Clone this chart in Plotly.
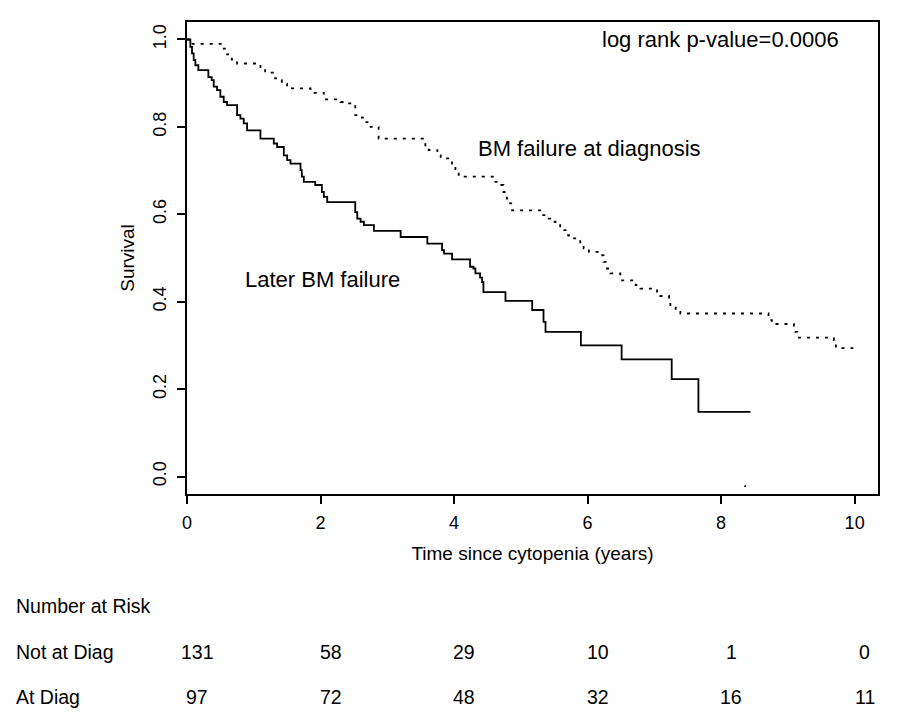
import plotly.graph_objects as go

# ---- data ----
later_t = [0, 0.05, 0.075, 0.10, 0.125, 0.17, 0.32, 0.37, 0.40, 0.45, 0.50,
           0.55, 0.60, 0.75, 0.80, 0.85, 0.90, 1.10, 1.30, 1.35, 1.45,
           1.50, 1.55, 1.70, 1.72, 1.75, 1.92, 2.02, 2.05, 2.10, 2.52,
           2.55, 2.60, 2.65, 2.80, 3.20, 3.60, 3.82, 3.85, 3.97, 4.24,
           4.29, 4.32, 4.39, 4.42, 4.44, 4.77, 5.17, 5.34, 5.37, 5.90,
           6.51, 7.26, 7.66, 8.44]
later_s = [1.0, 0.983, 0.968, 0.953, 0.941, 0.930, 0.914, 0.907, 0.892, 0.884, 0.869,
           0.857, 0.850, 0.827, 0.819, 0.808, 0.792, 0.773, 0.762, 0.754, 0.735,
           0.724, 0.716, 0.701, 0.686, 0.674, 0.667, 0.651, 0.640, 0.628, 0.605,
           0.590, 0.583, 0.575, 0.562, 0.548, 0.533, 0.518, 0.510, 0.497, 0.480,
           0.476, 0.465, 0.455, 0.445, 0.422, 0.402, 0.381, 0.354, 0.331, 0.300,
           0.268, 0.223, 0.148, 0.148]

diag_t = [0, 0.05, 0.55, 0.60, 0.67, 0.75, 1.10, 1.17, 1.32, 1.37,
          1.42, 1.50, 1.85, 2.05, 2.30, 2.35, 2.52, 2.62, 2.67, 2.75,
          2.87, 3.57, 3.62, 3.75, 3.80, 3.97, 4.02, 4.07, 4.62, 4.69,
          4.74, 4.79, 4.84, 4.87, 5.32, 5.37, 5.44, 5.52, 5.59, 5.67,
          5.72, 5.89, 5.94, 6.02, 6.22, 6.24, 6.29, 6.34, 6.49, 6.72,
          6.79, 7.04, 7.09, 7.22, 7.24, 7.32, 7.39, 8.71, 8.76, 9.09,
          9.14, 9.69, 9.72, 10.01]
diag_s = [1.0, 0.990, 0.979, 0.966, 0.954, 0.945, 0.934, 0.924, 0.911, 0.907,
          0.899, 0.888, 0.878, 0.863, 0.857, 0.854, 0.827, 0.821, 0.811, 0.800,
          0.773, 0.758, 0.747, 0.735, 0.728, 0.716, 0.701, 0.686, 0.674, 0.667,
          0.651, 0.636, 0.625, 0.609, 0.598, 0.590, 0.583, 0.575, 0.564, 0.552,
          0.545, 0.533, 0.522, 0.514, 0.506, 0.491, 0.476, 0.465, 0.449, 0.438,
          0.430, 0.419, 0.413, 0.407, 0.392, 0.381, 0.373, 0.358, 0.349, 0.331,
          0.318, 0.312, 0.294, 0.294]

stray_t = [8.36]
stray_s = [-0.022]

x_ticks = [0, 2, 4, 6, 8, 10]
y_ticks = [0.0, 0.2, 0.4, 0.6, 0.8, 1.0]
y_ticktext = ["0.0", "0.2", "0.4", "0.6", "0.8", "1.0"]

risk_times = [0, 2, 4, 6, 8, 10]
risk_rows = ["Not at Diag", "At Diag"]
risk_not_at_diag = [131, 58, 29, 10, 1, 0]
risk_at_diag = [97, 72, 48, 32, 16, 11]

FONT = "Liberation Sans, Arial, sans-serif"

fig = go.Figure()
fig.add_trace(go.Scatter(x=later_t, y=later_s, mode="lines",
                         line=dict(color="black", width=1.8, shape="hv"),
                         showlegend=False, hoverinfo="skip"))
fig.add_trace(go.Scatter(x=diag_t, y=diag_s, mode="lines",
                         line=dict(color="black", width=1.8, shape="hv", dash="3px,6px"),
                         showlegend=False, hoverinfo="skip"))
fig.add_trace(go.Scatter(x=stray_t, y=stray_s, mode="markers",
                         marker=dict(color="black", size=2),
                         showlegend=False, hoverinfo="skip"))

ann = []
ann.append(dict(x=6.18, y=1.0, xref="x", yref="y", text="log rank p-value=0.0006",
                showarrow=False, xanchor="left", yanchor="middle",
                font=dict(family=FONT, size=22, color="black")))
ann.append(dict(x=4.33, y=0.751, xref="x", yref="y", text="BM failure at diagnosis",
                showarrow=False, xanchor="left", yanchor="middle",
                font=dict(family=FONT, size=22, color="black")))
ann.append(dict(x=0.84, y=0.451, xref="x", yref="y", text="Later BM failure",
                showarrow=False, xanchor="left", yanchor="middle",
                font=dict(family=FONT, size=22, color="black")))

# risk table
tfont = dict(family=FONT, size=19.5, color="black")
row_y = [-0.335, -0.430]
ann.append(dict(x=-0.250, y=-0.237, xref="paper", yref="paper", text="Number at Risk",
                showarrow=False, xanchor="left", yanchor="middle", font=tfont))
for lab, yy, vals in zip(risk_rows, row_y, [risk_not_at_diag, risk_at_diag]):
    ann.append(dict(x=-0.250, y=yy, xref="paper", yref="paper", text=lab,
                    showarrow=False, xanchor="left", yanchor="middle", font=tfont))
    for t, v in zip(risk_times, vals):
        ann.append(dict(x=t, y=yy, xref="x", yref="paper", text=str(v),
                        showarrow=False, xanchor="center", yanchor="middle",
                        xshift=10, font=tfont))

# page body has an 8px margin, so the figure is drawn 8px smaller
fig.update_layout(
    width=892, height=713,
    margin=dict(l=179, r=22, t=14, b=227),
    paper_bgcolor="white", plot_bgcolor="white",
    font=dict(family=FONT, size=18, color="black"),
    annotations=ann,
)
fig.update_xaxes(range=[0, 10.35], tickvals=x_ticks, ticks="outside", ticklen=8,
                 tickwidth=1.5, tickcolor="black", showline=True, mirror=True,
                 linecolor="black", linewidth=1.5, showgrid=False, zeroline=False,
                 ticklabelstandoff=4,
                 tickfont=dict(family=FONT, size=18),
                 title=dict(text="Time since cytopenia (years)", standoff=14,
                            font=dict(family=FONT, size=19)))
fig.update_yaxes(range=[-0.04, 1.04], tickvals=y_ticks, ticktext=y_ticktext,
                 tickangle=-90, ticks="outside", ticklen=8,
                 tickwidth=1.5, tickcolor="black", showline=True, mirror=True,
                 linecolor="black", linewidth=1.5, showgrid=False, zeroline=False,
                 ticklabelstandoff=4,
                 tickfont=dict(family=FONT, size=18),
                 title=dict(text="Survival", standoff=10,
                            font=dict(family=FONT, size=19)))

fig.write_html("out.html")
